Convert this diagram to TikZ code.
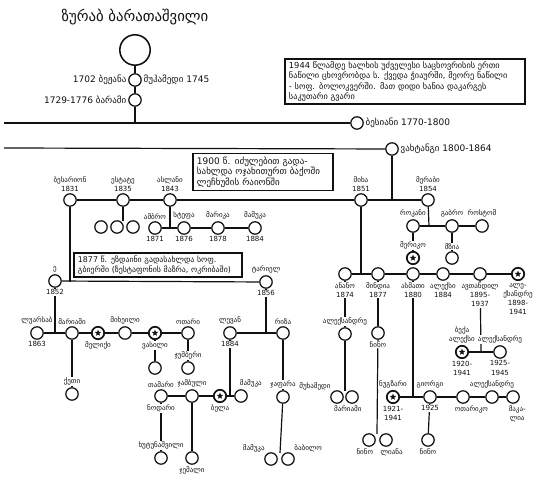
\documentclass[tikz,border=0pt]{standalone}
\usepackage{fontspec}
\setmainfont{DejaVu Sans}
\usepackage{xcolor}
\usetikzlibrary{shapes.geometric,backgrounds}
\definecolor{ink}{HTML}{111111}

\begin{document}
\begin{tikzpicture}[
  x=0.025cm, y=-0.025cm,
  font=\fontsize{5}{6.5}\selectfont,
  person/.style={
    circle,
    draw=ink,
    line width=0.9pt,
    fill=white,
    minimum size=3.1mm,
    inner sep=0pt
  },
  hero/.style={
    person,
    line width=1.2pt,
    path picture={\node[star, star points=5, star point ratio=2.3, fill=ink,
      inner sep=0pt, minimum size=1.7mm] at (path picture bounding box.center) {};}
  },
  root/.style={person, minimum size=7.6mm, line width=1.1pt},
  every label/.style={fill=white, inner sep=0.5pt, align=center, text=ink, label distance=0.6pt},
  elder/.style={font=\fontsize{6.4}{7}\selectfont},
  note/.style={
    draw=ink,
    line width=1.1pt,
    fill=white,
    align=left,
    inner xsep=3pt,
    inner ysep=2pt,
    text=ink
  },
  link/.style={draw=ink, line width=0.85pt}
]

\useasboundingbox (0,0) rectangle (540,484);

% founder line
\node[font=\fontsize{10.5}{12}\selectfont, text=ink] (title) at (135,17) {ზურაბ ბარათაშვილი};
\node[root] (zurab) at (135,50) {};
\node[person, label={[elder]left:1702 ბეჟანა}, label={[elder]right:მუჰამედი 1745}] (bezhana) at (135,80) {};
\node[person, label={[elder]left:1729-1776 ბარამი}] (barami) at (135,100) {};
\coordinate (west1) at (4,123);
\node[person, label={[elder]right:ბესიანი 1770-1800}] (besiani) at (357,123) {};
\coordinate (west2) at (4,148);
\node[person, label={[elder]right:ვახტანგი 1800-1864}] (vakhtangi) at (392,149) {};

\node[note, text width=5.8cm, font=\fontsize{5.9}{7.3}\selectfont] (note1944) at (405,81.5) {%
  1944 წლამდე ხალხის უძველესი საცხოვრისის ერთი\\
  ნაწილი ცხოვრობდა ს. ქვედა ჭიაურში, მეორე ნაწილი\\
  - სოფ. ბოლოკვერში. მათ დიდი ხანია დაკარგეს\\
  საკუთარი გვარი};

% children of vakhtangi
\node[person, label={above:ბესარიონ\\1831}] (besarion) at (70,200) {};
\node[person, label={above:ესტატე\\1835}] (estate) at (123,200) {};
\node[person, label={above:ასლანი\\1843}] (aslani) at (170,200) {};
\node[person, label={above:მიხა\\1851}] (mikha) at (361,200) {};
\node[person, label={above:მერაბი\\1854}] (merabi) at (428,200) {};

\node[note, text width=3.3cm, font=\fontsize{6.4}{7.6}\selectfont] (note1900) at (263,172) {%
  1900 წ. იძულებით გადა-\\
  სახლდა ოჯახითურთ ბაქოში\\
  ლეჩხუმის რაიონში};

\node[person] (estate1) at (101,227) {};
\node[person] (estate2) at (117,227) {};
\node[person] (estate3) at (133,227) {};

\node[person, label={above:ამბრო}, label={below:1871}] (ambro) at (155,228) {};
\node[person, label={above:სტეფა}, label={below:1876}] (stepa) at (184,228) {};
\node[person, label={above:მარიკა}, label={below:1878}] (marika) at (218,228) {};
\node[person, label={above:მამუკა}, label={below:1884}] (mamuka) at (255,228) {};

% besarion's branch
\node[note, text width=4.0cm, font=\fontsize{5.6}{7}\selectfont] (note1877) at (158,265) {%
  1877 წ. ეზდაინი გადასახლდა სოფ.\\
  გბიერში (ზესტაფონის მაზრა, ოკრიბაში)};
\node[person, label={above:ე}, label={below:1852}] (elizbari) at (55,281) {};
\node[person, label={above:ტარიელ}, label={below:1856}] (tarieli) at (266,282) {};

\node[person, label={above:ლუარსაბ}, label={below:1863}] (luarsabi) at (37,333) {};
\node[person, label={above:მარიამი}] (mariami) at (72,333) {};
\node[hero, label={below:მელიქი}] (meliki) at (98,333) {};
\node[person, label={above:მიხეილი}] (mikheili) at (125,333) {};
\node[hero, label={below:ვასილი}] (vasili) at (155,333) {};
\node[person, label={above:ოთარი}] (otari) at (188,333) {};

\node[person, label={above:ქეთი}] (keti) at (72,394) {};
\node[person] (vasilis) at (155,368) {};
\node[person, label={above:ჯუმბერი}] (jumberi) at (188,368) {};

\node[person, label={above:ლევან}, label={below:1884}] (levani) at (230,333) {};
\node[person, label={above:რიზა}] (riza) at (283,333) {};

\node[person, label={above:თამარი}, label={below:ნოდარი}] (tamari) at (161,396) {};
\node[person, label={above:ჯამბული}] (jambuli) at (192,396) {};
\node[hero, label={below:ბელა}] (bela) at (220,396) {};
\node[person, label={[xshift=7pt]above:მამუკა}] (mamuka2) at (241,396) {};
\node[person, label={above:ხუტუნაშვილი}] (khutu) at (161,458) {};
\node[person, label={below:ჯემალი}] (jemali) at (192,458) {};

\node[person, label={above:ჯაფარა}] (japara) at (283,397) {};
\node[person, label={above left:მამუკა}] (mamuka3) at (271,459) {};
\node[person, label={above right:ბაბილო}] (babilo) at (288,459) {};

% merabi's branch
\node[person, label={above:როკანი}] (rokani) at (413,226) {};
\node[person, label={above:გაბრო}] (gabro) at (452,226) {};
\node[person, label={above:როსტომ}] (rostomi) at (482,226) {};
\node[hero, label={above:მერიკო}] (meriko) at (413,258) {};
\node[person, label={above:მზია}] (mzia) at (452,258) {};

% mikha's branch
\node[person, label={below:ანანო\\1874}] (anano) at (345,274) {};
\node[person, label={below:მინდია\\1877}] (mindia) at (378,274) {};
\node[person, label={below:ასმათი\\1880}] (asmati) at (413,274) {};
\node[person, label={below:ალექსი\\1884}] (aleksi) at (443,274) {};
\node[person, label={below:ავთანდილ\\1895-\\1937}] (avtandili) at (480,274) {};
\node[hero, label={below:ალე-\\ქსანდრე\\1898-\\1941}] (aleksandre) at (518,274) {};

\node[person, label={above:ალექსანდრე}] (sandro) at (345,334) {};
\node[person, label={above left:მუხამედი}] (mukhamedi) at (337,397) {};
\node[person, label={[xshift=-3pt]below:მარიამი}] (mariami2) at (352,397) {};
\node[person, label={below:ნინო}] (nino) at (378,333) {};
\node[person, label={[xshift=-3pt]below:ნინო}] (nino2) at (369,440) {};
\node[person, label={[xshift=4pt]below:ლიანა}] (liana) at (386,440) {};

\node[hero, label={above:ნუგზარი}, label={below:1921-\\1941}] (nugzari) at (393,397) {};
\node[person, label={above:გიორგი}, label={below:1925}] (giorgi) at (430,397) {};
\node[person, label={[xshift=6pt]below:ოთარიკო}] (otariko) at (463,397) {};
\node[person, label={above:ალექსანდრე}] (aleksandre2) at (492,397) {};
\node[person, label={[xshift=3pt]below:მაკა-\\ლია}] (maka) at (513,397) {};
\node[person, label={below:ნინო}] (nino3) at (428,440) {};

\node[hero, label={above:ბექა\\ალექსი}, label={below:1920-\\1941}] (beka) at (462,352) {};
\node[person, label={above:ალექსანდრე}, label={below:1925-\\1945}] (sandro2) at (500,352) {};

\begin{scope}[on background layer]
  \draw[link] (zurab) -- (bezhana) -- (barami) -- (barami |- besiani);
  \draw[link] (west1) -- (besiani);
  \draw[link] (west2) -- (vakhtangi);
  \draw[link] (besarion) -- (estate) -- (aslani) -- (mikha) -- (merabi);
  \draw[link] (vakhtangi) -- (vakhtangi |- merabi);
  \draw[link] (estate) -- (123,221);
  \draw[link] (ambro) -- (stepa) -- (marika) -- (mamuka);
  \draw[link] (aslani) -- (aslani |- ambro);
  \draw[link] (besarion) -- (besarion |- tarieli);
  \draw[link] (elizbari) -- (tarieli);
  \draw[link] (elizbari) -- (elizbari |- mariami);
  \draw[link] (luarsabi) -- (mariami) -- (meliki) -- (mikheili) -- (vasili) -- (otari);
  \draw[link] (mariami) -- (keti);
  \draw[link] (vasili) -- (vasilis);
  \draw[link] (otari) -- (jumberi);
  \draw[link] (tarieli) -- (tarieli |- levani);
  \draw[link] (levani) -- (riza);
  \draw[link] (levani) -- (levani |- bela);
  \draw[link] (tamari) -- (jambuli) -- (bela) -- (mamuka2);
  \draw[link] (tamari) -- (khutu);
  \draw[link] (jambuli) -- (jemali);
  \draw[link] (riza) -- (japara);
  \draw[link] (japara) -- (280,453);
  \draw[link] (merabi) -- (429,226);
  \draw[link] (rokani) -- (gabro) -- (rostomi);
  \draw[link] (rokani) -- (meriko);
  \draw[link] (gabro) -- (mzia);
  \draw[link] (mikha) -- (mikha |- anano);
  \draw[link] (anano) -- (mindia) -- (asmati) -- (aleksi) -- (avtandili) -- (aleksandre);
  \draw[link] (anano) -- (sandro);
  \draw[link] (sandro) -- (345,391);
  \draw[link] (mindia) -- (nino);
  \draw[link] (nino) -- (377,434);
  \draw[link] (asmati) -- (asmati |- giorgi);
  \draw[link] (nugzari) -- (giorgi) -- (otariko) -- (aleksandre2) -- (maka);
  \draw[link] (giorgi) -- (nino3);
  \draw[link] (avtandili) -- (481,352);
  \draw[link] (beka) -- (sandro2);
\end{scope}

\end{tikzpicture}
\end{document}
